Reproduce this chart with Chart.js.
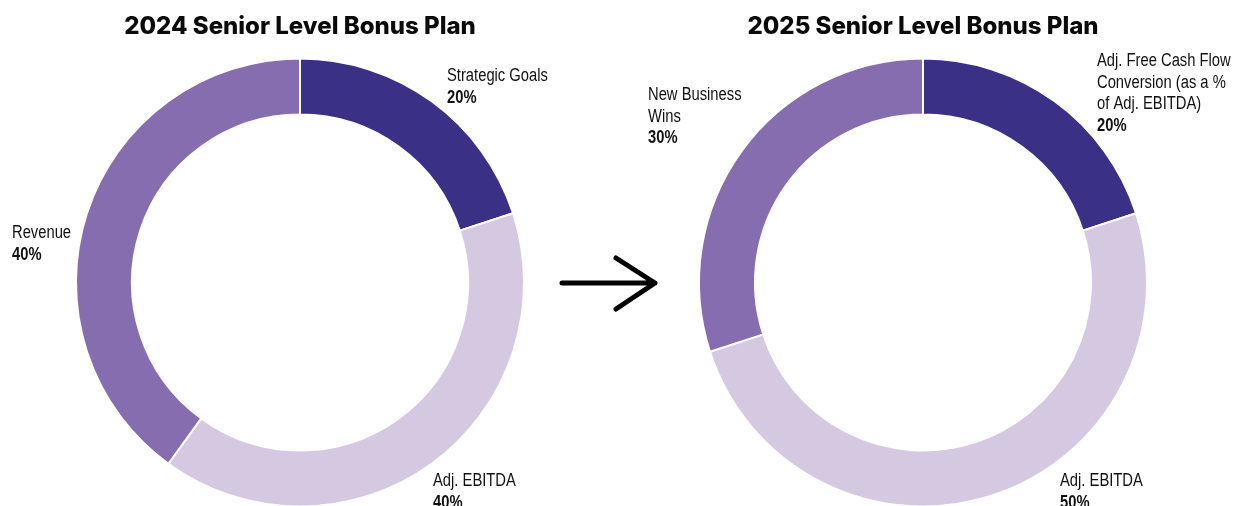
<!DOCTYPE html>
<html>
<head>
<meta charset="utf-8">
<title>Senior Level Bonus Plan</title>
<script src="https://cdn.jsdelivr.net/npm/chart.js@4.4.1/dist/chart.umd.min.js"></script>
<style>
  html, body { margin: 0; padding: 0; background: #fff; overflow: hidden; }
  .stage { position: relative; width: 1236px; height: 506px; }
  canvas, svg { position: absolute; top: 0; }
  #chart2024 { left: 0; }
  #chart2025 { left: 610px; }
  #arrow { left: 0; }
</style>
</head>
<body>
<div class="stage">
  <canvas id="chart2024" width="600" height="506"></canvas>
  <canvas id="chart2025" width="626" height="506"></canvas>
  <svg id="arrow" width="1236" height="506">
    <path d="M562 283 L655 283 M616 258 L655 283 L616 309" fill="none" stroke="#000" stroke-width="5" stroke-linecap="round" stroke-linejoin="round"/>
  </svg>
</div>
<script>
// data
const categories2024 = ['Strategic Goals', 'Adj. EBITDA', 'Revenue'];
const weights2024 = [20, 40, 40];
const labelLines2024 = [['Strategic Goals'], ['Adj. EBITDA'], ['Revenue']];

const categories2025 = ['Adj. Free Cash Flow Conversion (as a % of Adj. EBITDA)', 'Adj. EBITDA', 'New Business Wins'];
const weights2025 = [20, 50, 30];
const labelLines2025 = [['Adj. Free Cash Flow', 'Conversion (as a %', 'of Adj. EBITDA)'], ['Adj. EBITDA'], ['New Business', 'Wins']];

const sliceColors = ['#3a3086', '#d5c9e2', '#856daf'];

// where each callout sits inside its canvas (x of left edge, y of first line)
const labelPos2024 = [[447, 76], [433, 481], [12, 233]];
const labelPos2025 = [[487, 61], [450, 481], [38, 95]];

// no narrow face installed, so squeeze Liberation Sans horizontally
const labelFont = '"Liberation Sans", Arial, sans-serif';
const squeeze = 0.82;

function narrowText(ctx, text, x, y) {
  ctx.save();
  ctx.translate(x, y);
  ctx.scale(squeeze, 1);
  ctx.fillText(text, 0, 0);
  ctx.restore();
}

// draws the text callouts next to the slices
const calloutPlugin = {
  id: 'callouts',
  afterDatasetsDraw(chart, args, opts) {
    const ctx = chart.ctx;
    const values = chart.data.datasets[0].data;
    ctx.save();
    ctx.fillStyle = '#111';
    ctx.textAlign = 'left';
    ctx.textBaseline = 'middle';
    opts.lines.forEach((lines, i) => {
      const [x, y] = opts.positions[i];
      ctx.font = '18px ' + labelFont;
      lines.forEach((line, j) => narrowText(ctx, line, x, y + j * 21.7));
      ctx.font = 'bold 18px ' + labelFont;
      narrowText(ctx, values[i] + '%', x, y + lines.length * 21.7);
    });
    ctx.restore();
  }
};

function makeDonut(id, title, labels, values, lines, positions) {
  return new Chart(document.getElementById(id), {
    type: 'doughnut',
    data: {
      labels: labels,
      datasets: [{
        data: values,
        backgroundColor: sliceColors,
        borderColor: '#fff',
        borderWidth: 2
      }]
    },
    options: {
      responsive: false,
      animation: false,
      devicePixelRatio: 1,
      radius: 224,
      cutout: '75%',
      layout: { padding: 0 },
      plugins: {
        legend: { display: false },
        tooltip: { enabled: false },
        title: {
          display: true,
          text: title,
          color: '#0a0a0a',
          font: { family: 'Inter', size: 24, weight: 800, lineHeight: 1.2 },
          padding: { top: 12, bottom: 18.2 }
        },
        callouts: { lines: lines, positions: positions }
      }
    },
    plugins: [calloutPlugin]
  });
}

makeDonut('chart2024', '2024 Senior Level Bonus Plan', categories2024, weights2024, labelLines2024, labelPos2024);
makeDonut('chart2025', '2025 Senior Level Bonus Plan', categories2025, weights2025, labelLines2025, labelPos2025);
</script>
</body>
</html>
